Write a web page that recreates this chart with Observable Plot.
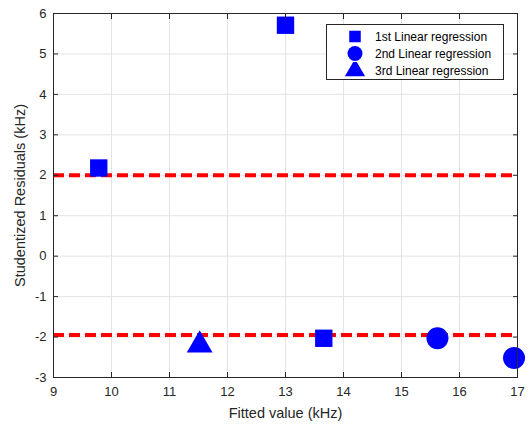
<!DOCTYPE html>
<html>
<head>
<meta charset="utf-8">
<script src="https://cdn.jsdelivr.net/npm/d3@7"></script>
<script src="https://cdn.jsdelivr.net/npm/@observablehq/plot@0.6"></script>
<style>
  html, body { margin: 0; padding: 0; background: #fff; }
  #wrap { position: relative; width: 529px; height: 424px; font-family: "Liberation Sans", Arial, sans-serif; }
  #legend { position: absolute; left: 326px; top: 24px; width: 178px; height: 56px; border: 1px solid #262626; background: #fff; box-sizing: border-box; }
  .row { position: absolute; left: 0; height: 17px; display: flex; align-items: center; font-size: 12px; color: #000; }
  .row svg { width: 40px; height: 17px; }
  .row span { margin-left: 8px; }
</style>
</head>
<body>
<div id="wrap"><div id="chart"></div><div id="legend"></div></div>
<script>
const seriesNames = ["1st Linear regression", "2nd Linear regression", "3rd Linear regression"];
const seriesSymbols = ["square", "circle", "triangle"];
const fitted1 = [9.78, 13.0, 13.66];
const resid1 = [2.18, 5.71, -2.03];
const fitted2 = [15.62, 16.94];
const resid2 = [-2.03, -2.52];
const fitted3 = [11.52];
const resid3 = [-2.2];
const thresholds = [2, -1.95];
const xTicks = [9, 10, 11, 12, 13, 14, 15, 16, 17];
const yTicks = [-3, -2, -1, 0, 1, 2, 3, 4, 5, 6];

const pts = (xs, ys, s) => xs.map((x, i) => ({x, y: ys[i], s}));
const points = [
  ...pts(fitted1, resid1, 0),
  ...pts(fitted2, resid2, 1),
  ...pts(fitted3, resid3, 2)
];
const sizes = [9.8, 11, 9.6];
const axisColor = "#262626";
const fmt = d => String(d);

const chart = Plot.plot({
  width: 529,
  height: 424,
  marginLeft: 53,
  marginRight: 12,
  marginTop: 13,
  marginBottom: 47,
  x: {domain: [9, 17]},
  y: {domain: [-3, 6]},
  r: {type: "identity"},
  style: {fontFamily: "'Liberation Sans', Arial, sans-serif", fontSize: "13px", color: axisColor, background: "#fff"},
  marks: [
    Plot.gridX(xTicks, {stroke: "#e3e3e3", strokeOpacity: 1}),
    Plot.gridY(yTicks, {stroke: "#e3e3e3", strokeOpacity: 1}),
    Plot.ruleY(thresholds, {stroke: "#ff0000", strokeWidth: 4, strokeDasharray: "11,5"}),
    Plot.dot(points, {x: "x", y: "y", symbol: d => seriesSymbols[d.s], r: d => sizes[d.s], fill: "#0000ff", stroke: "none"}),
    Plot.frame({stroke: axisColor, strokeWidth: 1}),
    Plot.axisX(xTicks, {anchor: "bottom", tickSize: -5, tickPadding: 14, fontSize: 13, tickFormat: fmt, label: "Fitted value (kHz)", labelAnchor: "center", labelOffset: 40, labelArrow: "none"}),
    Plot.axisX(xTicks, {anchor: "top", tickSize: -5, tickFormat: () => "", label: null}),
    Plot.axisY(yTicks, {anchor: "left", tickSize: -5, tickPadding: 12, fontSize: 13, tickFormat: fmt, label: "Studentized Residuals (kHz)", labelAnchor: "center", labelOffset: 39, labelArrow: "none"}),
    Plot.axisY(yTicks, {anchor: "right", tickSize: -5, tickFormat: () => "", label: null})
  ]
});
document.getElementById("chart").appendChild(chart);

chart.querySelectorAll("[aria-label='x-axis label'] text, [aria-label='y-axis label'] text").forEach(t => t.setAttribute("font-size", "14.5"));

// legend
const legend = document.getElementById("legend");
const legendSizes = [6.5, 7.5, 7.5];
seriesNames.forEach((name, i) => {
  const row = document.createElement("div");
  row.className = "row";
  row.style.top = (3 + i * 17) + "px";
  const svg = d3.create("svg").attr("width", 40).attr("height", 17);
  svg.append("path")
    .attr("transform", "translate(28,8.5)")
    .attr("d", d3.symbol(
      [d3.symbolSquare, d3.symbolCircle, d3.symbolTriangle][i],
      Math.PI * legendSizes[i] * legendSizes[i]
    )())
    .attr("fill", "#0000ff");
  row.appendChild(svg.node());
  const span = document.createElement("span");
  span.textContent = name;
  row.appendChild(span);
  legend.appendChild(row);
});
</script>
</body>
</html>
